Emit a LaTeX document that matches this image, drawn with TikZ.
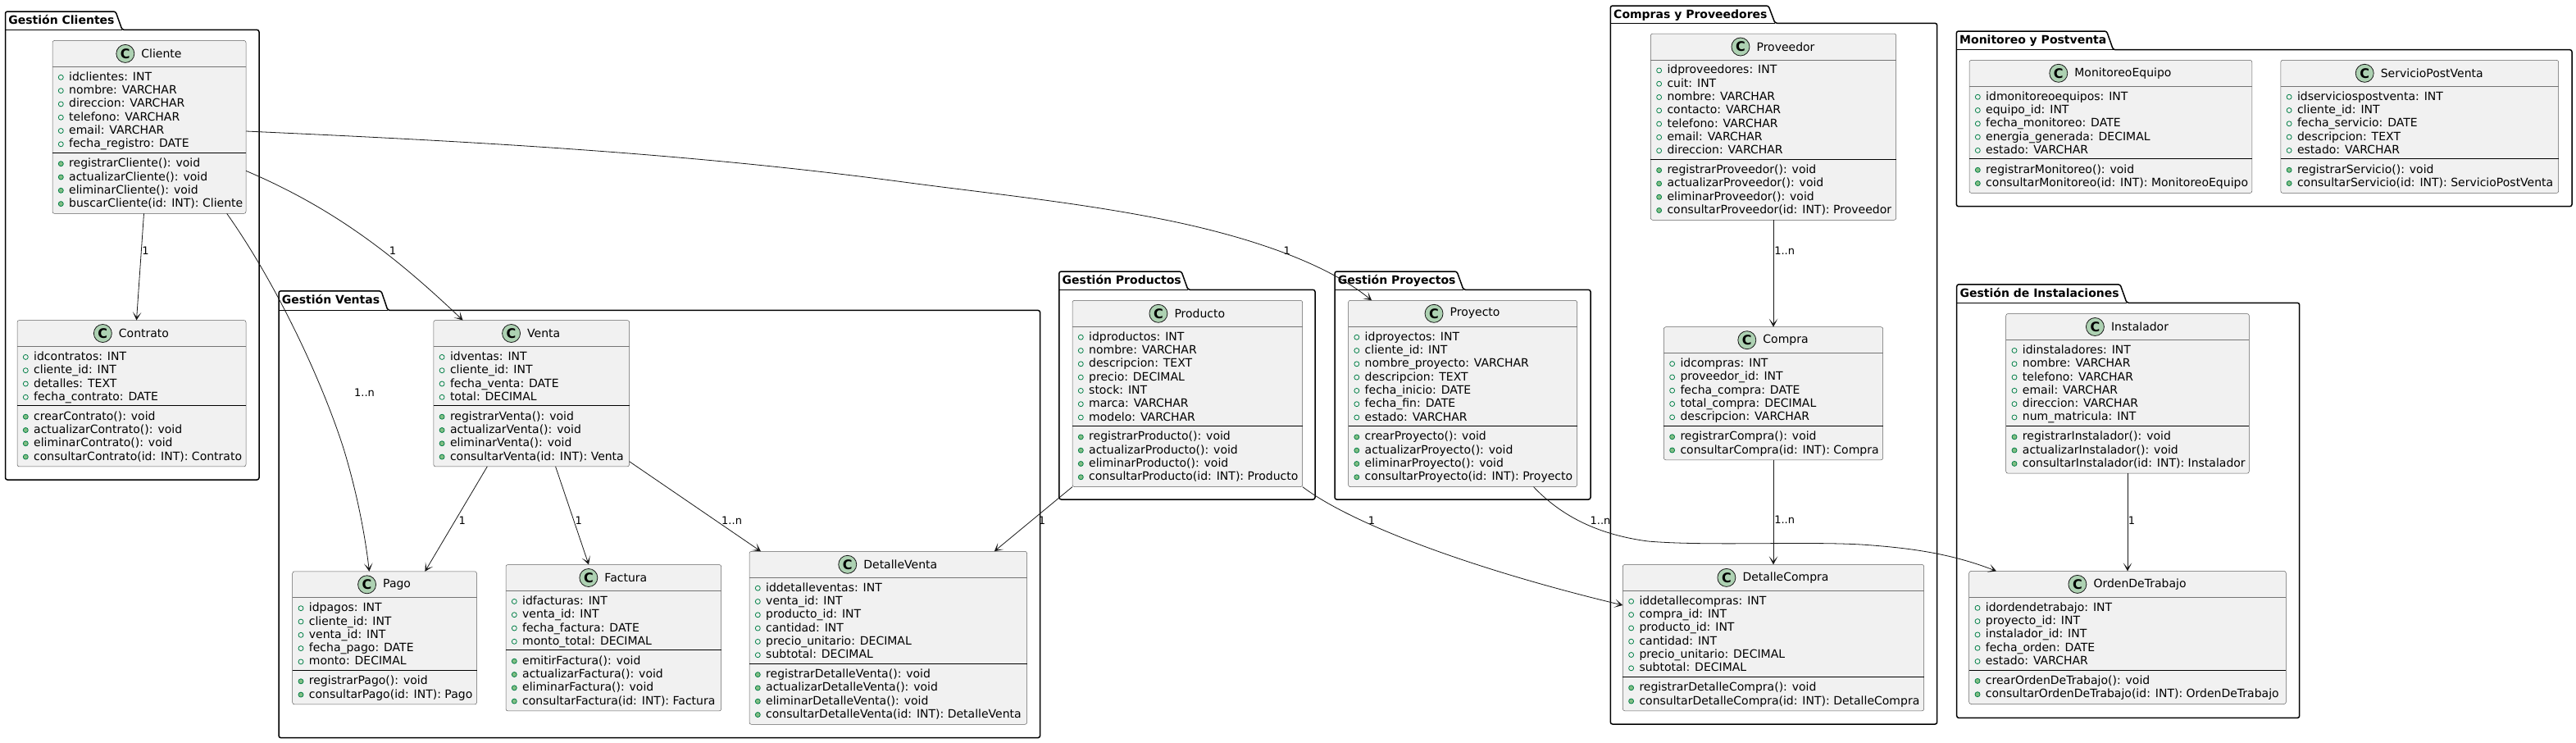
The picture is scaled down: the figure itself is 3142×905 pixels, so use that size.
\documentclass[tikz,border=0pt]{standalone}
\usepackage{fontspec}
\setmainfont{DejaVu Sans}
\usetikzlibrary{arrows.meta,positioning}
\definecolor{fondoclase}{HTML}{F1F1F1}
\definecolor{linea}{HTML}{181818}
\definecolor{verdec}{HTML}{ADD1B2}
\definecolor{verdeat}{HTML}{038048}
\definecolor{verdeme}{HTML}{84BE84}
\tikzset{
	paq/.style={draw=black,line width=1.5pt,rounded corners=2.5pt},
	paqtit/.style={inner sep=0pt,anchor=base west,font=\fontsize{14}{16}\selectfont\bfseries},
	clase/.style={draw=linea!70,line width=0.5pt,fill=fondoclase,rounded corners=2.5pt,anchor=north west,inner sep=0pt,outer sep=0pt},
	sepgris/.style={draw=linea!60,line width=0.7pt},
	sepneg/.style={draw=black,line width=0.8pt},
	titulo/.style={inner sep=0pt,text=black},
	circuloc/.style={circle,draw=linea,line width=0.8pt,fill=verdec,minimum size=22pt,inner sep=0pt,font=\fontsize{16}{16}\selectfont\bfseries},
	fila/.style={inner sep=0pt,anchor=base west,text=black},
	pubat/.style={circle,draw=verdeat,line width=0.8pt,minimum size=6pt,inner sep=0pt},
	pubme/.style={circle,draw=verdeat,fill=verdeme,line width=0.8pt,minimum size=6pt,inner sep=0pt},
	rel/.style={->,draw=linea,line width=0.8pt},
	etq/.style={inner sep=0pt,font=\fontsize{13}{15}\selectfont}
}
% nombre, x1, x2, arriba, n atributos, n metodos, atributos, metodos
\newcommand{\clasebox}[8]{%
	\pgfmathsetmacro{\ancho}{#3-#2}
	\pgfmathsetmacro{\alto}{48+16.3*(#5+#6)}
	\pgfmathsetmacro{\ydiv}{32+16.3*#5+7}
	\node[clase,minimum width=\ancho pt,minimum height=\alto pt] (#1) at (#2,#4) {};
	\node[titulo,xshift=15pt] (#1-t) at ([yshift=-16pt]#1.north) {#1};
	\node[circuloc,left=8pt of #1-t] (#1-c) {C};
	\draw[sepgris] ([yshift=-32pt]#1.north west) -- ([yshift=-32pt]#1.north east);
	\draw[sepneg] ([yshift=-\ydiv pt]#1.north west) -- ([yshift=-\ydiv pt]#1.north east);
	\foreach \txt [count=\n] in {#7} {
		\pgfmathsetmacro{\yb}{32+16.9+16.3*(\n-1)}
		\pgfmathsetmacro{\yc}{\yb-4}
		\node[fila] (#1-a\n) at ([xshift=20pt,yshift=-\yb pt]#1.north west) {\txt};
		\node[pubat] (#1-pa\n) at ([xshift=10.3pt,yshift=-\yc pt]#1.north west) {};
	}
	\foreach \txt [count=\n] in {#8} {
		\pgfmathsetmacro{\yb}{\ydiv+17.5+16.3*(\n-1)}
		\pgfmathsetmacro{\yc}{\yb-4}
		\node[fila] (#1-m\n) at ([xshift=20pt,yshift=-\yb pt]#1.north west) {\txt};
		\node[pubme] (#1-pm\n) at ([xshift=10.3pt,yshift=-\yc pt]#1.north west) {};
	}
}
% nombre, x1, x2, arriba pestana, arriba caja, abajo, x pestana, titulo
\newcommand{\paquete}[8]{%
	\draw[paq] (#2,#5) -- (#2,#4) -- (#7,#4) -- (#7+8,#5) -- (#3,#5) -- (#3,#6) -- (#2,#6) -- cycle;
	\draw[paq] (#2,#5) -- (#7+8,#5);
	\node[paqtit] (#1) at (#2+3.7,#4+15.5) {#8};
}
\begin{document}
\begin{tikzpicture}[x=1pt,y=-1pt,>={Stealth[length=10pt,width=10.5pt,inset=6pt]},font=\fontsize{14}{16.3}\selectfont,line join=round]
	\useasboundingbox (0,0) rectangle (3142,905);
	% paquetes
	\paquete{pClientes}{6.5}{316}{14}{36.4}{585}{141}{Gestión Clientes}
	\paquete{pVentas}{340}{1268.6}{354.8}{378.4}{899.6}{465}{Gestión Ventas}
	\paquete{pProductos}{1291.8}{1604}{331}{353.3}{609}{1441}{Gestión Productos}
	\paquete{pProyectos}{1628}{1940}{331}{353.3}{609}{1777}{Gestión Proyectos}
	\paquete{pCompras}{1964.3}{2362.7}{7}{28.3}{883}{2157}{Compras y Proveedores}
	\paquete{pMonitoreo}{2386.3}{3137}{38}{60.7}{251.7}{2569.5}{Monitoreo y Postventa}
	\paquete{pInstalaciones}{2386.7}{2804.7}{346.8}{369.3}{875.4}{2586}{Gestión de Instalaciones}
	% clases
	\clasebox{Cliente}{64}{300}{49.4}{6}{4}{idclientes: INT,nombre: VARCHAR,direccion: VARCHAR,telefono: VARCHAR,email: VARCHAR,fecha\_registro: DATE}{registrarCliente(): void,actualizarCliente(): void,eliminarCliente(): void,buscarCliente(id: INT): Cliente}
	\clasebox{Contrato}{21}{300}{390.5}{4}{4}{idcontratos: INT,cliente\_id: INT,detalles: TEXT,fecha\_contrato: DATE}{crearContrato(): void,actualizarContrato(): void,eliminarContrato(): void,consultarContrato(id: INT): Contrato}
	\clasebox{Venta}{528.8}{767.6}{390.5}{4}{4}{idventas: INT,cliente\_id: INT,fecha\_venta: DATE,total: DECIMAL}{registrarVenta(): void,actualizarVenta(): void,eliminarVenta(): void,consultarVenta(id: INT): Venta}
	\clasebox{Pago}{356.7}{581.5}{696.8}{5}{2}{idpagos: INT,cliente\_id: INT,venta\_id: INT,fecha\_pago: DATE,monto: DECIMAL}{registrarPago(): void,consultarPago(id: INT): Pago}
	\clasebox{Factura}{617}{879.7}{688.5}{4}{4}{idfacturas: INT,venta\_id: INT,fecha\_factura: DATE,monto\_total: DECIMAL}{emitirFactura(): void,actualizarFactura(): void,eliminarFactura(): void,consultarFactura(id: INT): Factura}
	\clasebox{DetalleVenta}{914}{1252.6}{672.3}{6}{4}{iddetalleventas: INT,venta\_id: INT,producto\_id: INT,cantidad: INT,precio\_unitario: DECIMAL,subtotal: DECIMAL}{registrarDetalleVenta(): void,actualizarDetalleVenta(): void,eliminarDetalleVenta(): void,consultarDetalleVenta(id: INT): DetalleVenta}
	\clasebox{Producto}{1308}{1588.7}{366.3}{7}{4}{idproductos: INT,nombre: VARCHAR,descripcion: TEXT,precio: DECIMAL,stock: INT,marca: VARCHAR,modelo: VARCHAR}{registrarProducto(): void,actualizarProducto(): void,eliminarProducto(): void,consultarProducto(id: INT): Producto}
	\clasebox{Proyecto}{1644.5}{1923.6}{366.3}{7}{4}{idproyectos: INT,cliente\_id: INT,nombre\_proyecto: VARCHAR,descripcion: TEXT,fecha\_inicio: DATE,fecha\_fin: DATE,estado: VARCHAR}{crearProyecto(): void,actualizarProyecto(): void,eliminarProyecto(): void,consultarProyecto(id: INT): Proyecto}
	\clasebox{Proveedor}{2013.3}{2312.7}{41}{7}{4}{idproveedores: INT,cuit: INT,nombre: VARCHAR,contacto: VARCHAR,telefono: VARCHAR,email: VARCHAR,direccion: VARCHAR}{registrarProveedor(): void,actualizarProveedor(): void,eliminarProveedor(): void,consultarProveedor(id: INT): Proveedor}
	\clasebox{Compra}{2029.3}{2296.7}{398.7}{5}{2}{idcompras: INT,proveedor\_id: INT,fecha\_compra: DATE,total\_compra: DECIMAL,descripcion: VARCHAR}{registrarCompra(): void,consultarCompra(id: INT): Compra}
	\clasebox{DetalleCompra}{1979.3}{2346.7}{688.4}{6}{2}{iddetallecompras: INT,compra\_id: INT,producto\_id: INT,cantidad: INT,precio\_unitario: DECIMAL,subtotal: DECIMAL}{registrarDetalleCompra(): void,consultarDetalleCompra(id: INT): DetalleCompra}
	\clasebox{MonitoreoEquipo}{2402}{2746.8}{73.3}{5}{2}{idmonitoreoequipos: INT,equipo\_id: INT,fecha\_monitoreo: DATE,energia\_generada: DECIMAL,estado: VARCHAR}{registrarMonitoreo(): void,consultarMonitoreo(id: INT): MonitoreoEquipo}
	\clasebox{ServicioPostVenta}{2781.8}{3120.7}{73.3}{5}{2}{idserviciospostventa: INT,cliente\_id: INT,fecha\_servicio: DATE,descripcion: TEXT,estado: VARCHAR}{registrarServicio(): void,consultarServicio(id: INT): ServicioPostVenta}
	\clasebox{Instalador}{2446.7}{2743.3}{382.5}{6}{3}{idinstaladores: INT,nombre: VARCHAR,telefono: VARCHAR,email: VARCHAR,direccion: VARCHAR,num\_matricula: INT}{registrarInstalador(): void,actualizarInstalador(): void,consultarInstalador(id: INT): Instalador}
	\clasebox{OrdenDeTrabajo}{2401.7}{2788.3}{696.4}{5}{2}{idordendetrabajo: INT,proyecto\_id: INT,instalador\_id: INT,fecha\_orden: DATE,estado: VARCHAR}{crearOrdenDeTrabajo(): void,consultarOrdenDeTrabajo(id: INT): OrdenDeTrabajo}
	% relaciones
	\draw[rel] ([xshift=-6.5pt]Cliente.south) -- ([xshift=6pt]Contrato.north);
	\draw[rel] ([yshift=-53.4pt]Cliente.east) .. controls (410,255) and (485,315) .. ([xshift=-83.7pt]Venta.north);
	\draw[rel] ([xshift=94.7pt]Cliente.south) .. controls (340,350) and (395,470) .. (420,550) .. controls (435,600) and (445,650) .. ([xshift=-18.7pt]Pago.north);
	\draw[rel] ([yshift=-5.1pt]Cliente.east) .. controls (566,172) and (833,186) .. (1100,221.7) .. controls (1207,236) and (1314,246.6) .. (1421,268) .. controls (1505,285) and (1610,315) .. ([xshift=-111pt]Proyecto.north);
	\draw[rel] ([xshift=-53.9pt]Venta.south) -- ([xshift=49.3pt]Pago.north);
	\draw[rel] ([xshift=29.4pt]Venta.south) -- ([xshift=-30.3pt]Factura.north);
	\draw[rel] ([yshift=-83pt]Venta.east) -- ([xshift=-155.3pt]DetalleVenta.north);
	\draw[rel] (Producto.south west) -- ([xshift=129.5pt]DetalleVenta.north);
	\draw[rel] (Producto.south east) .. controls (1650,640) and (1800,695) .. ([yshift=39.6pt]DetalleCompra.west);
	\draw[rel] (Proveedor.south) -- (Compra.north);
	\draw[rel] (Compra.south) -- (DetalleCompra.north);
	\draw[rel] ([xshift=86.4pt]Proyecto.south) .. controls (1905,630) and (1950,652) .. (2010,660) .. controls (2080,666) and (2200,660) .. (2270,664) .. controls (2330,668) and (2380,675) .. ([xshift=-160pt]OrdenDeTrabajo.north);
	\draw[rel] (Instalador.south) -- (OrdenDeTrabajo.north);
	% etiquetas
	\node[etq] (e1) at (177.6,306) {1};
	\node[etq] (e2) at (479,306) {1};
	\node[etq] (e3) at (444.5,479) {1..n};
	\node[etq] (e4) at (1569.7,306) {1};
	\node[etq] (e5) at (563.7,634.8) {1};
	\node[etq] (e6) at (705.8,634.8) {1};
	\node[etq] (e7) at (892.6,634.8) {1..n};
	\node[etq] (e8) at (1271,634.8) {1};
	\node[etq] (e9) at (1673,634.3) {1};
	\node[etq] (e10) at (2176.7,305.8) {1..n};
	\node[etq] (e11) at (2176.7,633.6) {1..n};
	\node[etq] (e12) at (1952,634.7) {1..n};
	\node[etq] (e13) at (2600,634.3) {1};
\end{tikzpicture}
\end{document}
